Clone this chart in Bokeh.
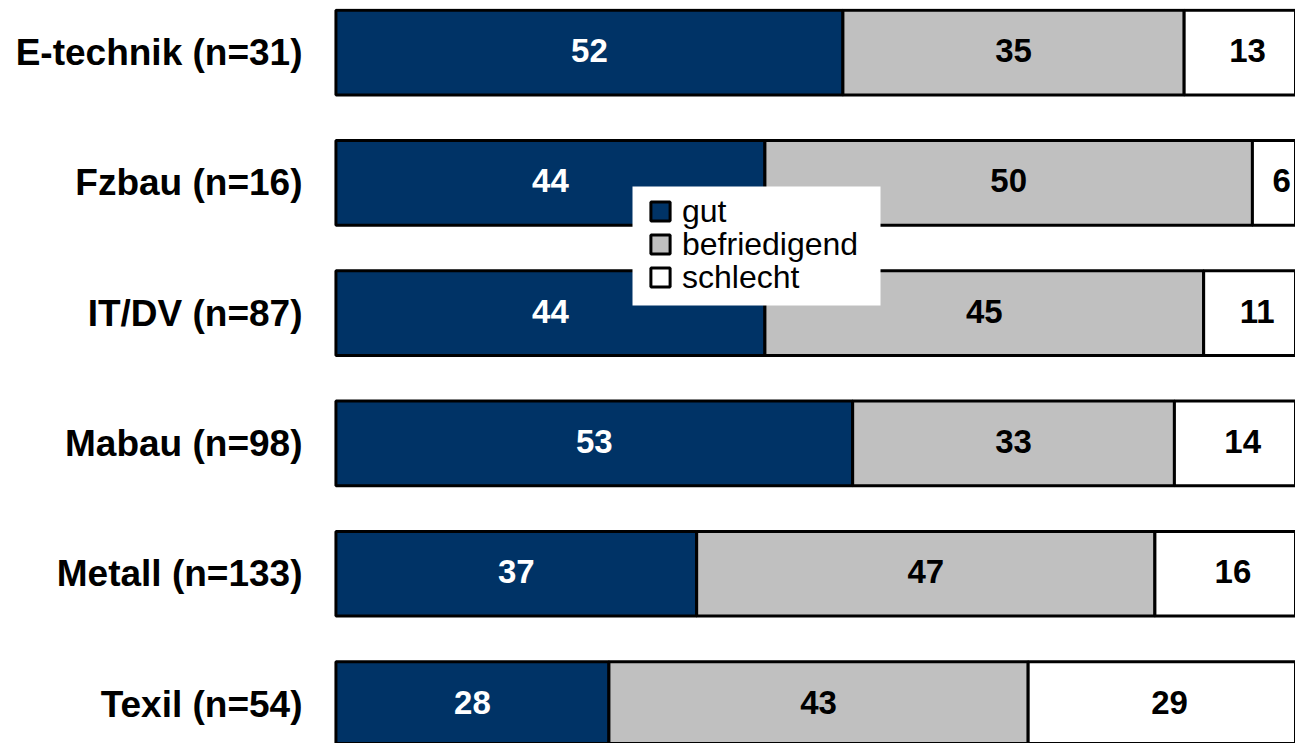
from bokeh.plotting import figure
from bokeh.models import (ColumnDataSource, Range1d, Legend, LegendItem, FixedTicker,
                          BoxAnnotation)
from bokeh.core.properties import value
from bokeh.embed import file_html
from bokeh.resources import INLINE

categories = ["E-technik (n=31)", "Fzbau (n=16)", "IT/DV (n=87)",
              "Mabau (n=98)", "Metall (n=133)", "Texil (n=54)"]
gut = [52, 44, 44, 53, 37, 28]
befriedigend = [35, 50, 45, 33, 47, 43]
schlecht = [13, 6, 11, 14, 16, 29]
series = ["gut", "befriedigend", "schlecht"]
colors = ["#003366", "#C0C0C0", "#FFFFFF"]
label_colors = ["white", "black", "black"]

FONT = "Liberation Sans"
pos = list(range(len(categories)))
src = ColumnDataSource(dict(y=pos, gut=gut, befriedigend=befriedigend, schlecht=schlecht))

p = figure(width=1295, height=743, output_backend="svg", toolbar_location=None,
           x_range=Range1d(-0.25, 98.42), y_range=Range1d(5.303, -0.338),
           min_border_left=333, min_border_right=0, min_border_top=8, min_border_bottom=0)

renderers = p.hbar_stack(series, y="y", height=0.65, fill_color=colors,
                         line_color="black", line_width=3, source=src)

lx, ly, lt, lc = [], [], [], []
for i in pos:
    left = 0
    for vals, c in zip([gut, befriedigend, schlecht], label_colors):
        v = vals[i]
        lx.append(left + v / 2)
        ly.append(i)
        lt.append(str(v))
        lc.append(c)
        left += v
lsrc = ColumnDataSource(dict(x=lx, y=ly, t=lt, c=lc))
p.text(x="x", y="y", text="t", text_color="c", source=lsrc, y_offset=-2,
       text_font=value(FONT), text_font_size="33px", text_font_style="bold",
       text_align="center", text_baseline="middle")

p.xaxis.visible = False
p.yaxis.ticker = FixedTicker(ticks=pos)
p.yaxis.major_label_overrides = {i: c for i, c in enumerate(categories)}
p.yaxis.major_label_text_font = FONT
p.yaxis.major_label_text_font_size = "37px"
p.yaxis.major_label_text_font_style = "bold"
p.yaxis.major_label_text_color = "black"
p.yaxis.axis_line_color = None
p.yaxis.major_tick_line_color = None
p.yaxis.minor_tick_line_color = None
p.yaxis.major_tick_out = 0
p.yaxis.major_tick_in = 0
p.yaxis.major_label_standoff = 31
p.xgrid.visible = False
p.ygrid.visible = False
p.outline_line_color = None

# legend background box (frame-relative screen units)
p.add_layout(BoxAnnotation(left=299, right=547, bottom=438, top=557,
                           left_units="screen", right_units="screen",
                           bottom_units="screen", top_units="screen",
                           fill_color="white", fill_alpha=1.0, line_color=None))

# one legend per row for tight row spacing
legend_y = [513.5, 480.5, 447.5]
for s, r, ly_ in zip(series, renderers, legend_y):
    lg = Legend(items=[LegendItem(label=s, renderers=[r])],
                location=(315, ly_), margin=0, padding=0, spacing=0,
                glyph_width=24, glyph_height=24, label_standoff=10,
                label_text_font=FONT, label_text_font_size="32px", label_text_color="black",
                border_line_color=None, background_fill_alpha=0.0)
    p.add_layout(lg)

open("out.html", "w").write(file_html(p, INLINE))
